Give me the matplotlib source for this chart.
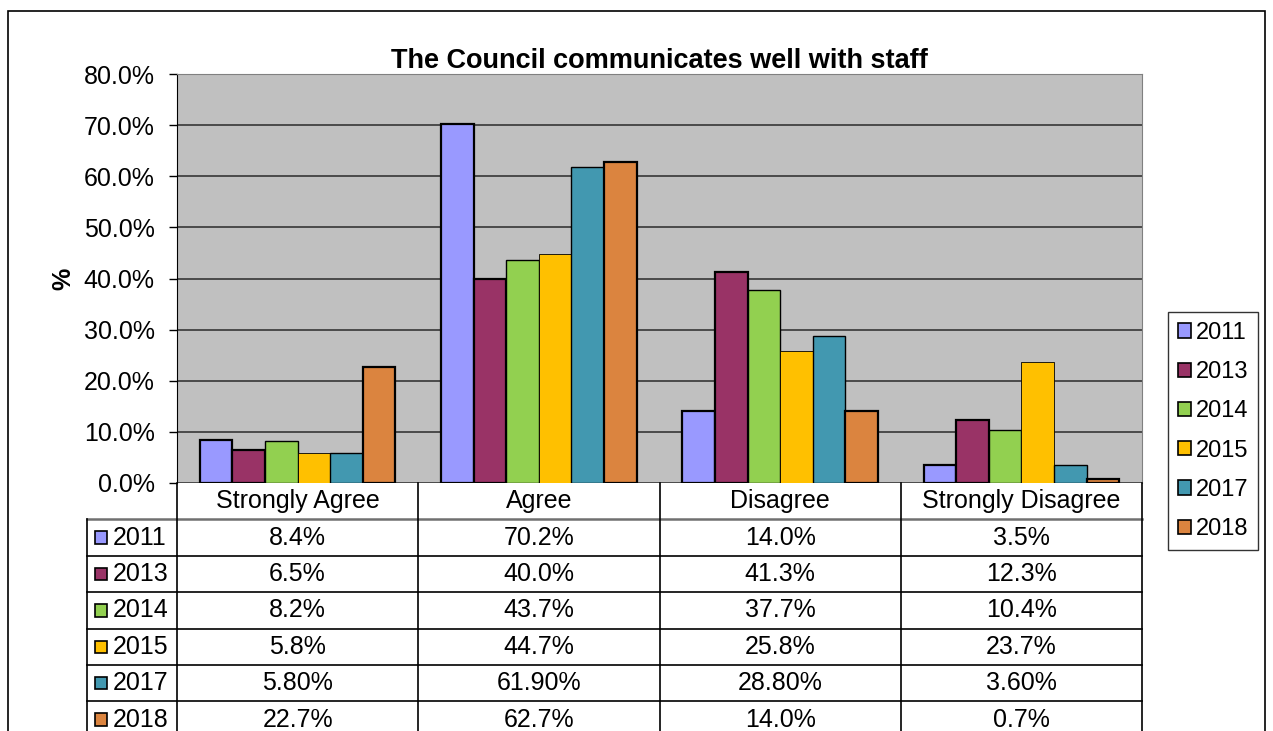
import numpy as np
import matplotlib
matplotlib.use('Agg')
import matplotlib.pyplot as plt
from matplotlib.patches import Rectangle

plt.rcParams['font.family'] = ['Liberation Sans', 'DejaVu Sans']

categories = ['Strongly Agree', 'Agree', 'Disagree', 'Strongly Disagree']
years = ['2011', '2013', '2014', '2015', '2017', '2018']
v2011 = [8.4, 70.2, 14.0, 3.5]
v2013 = [6.5, 40.0, 41.3, 12.3]
v2014 = [8.2, 43.7, 37.7, 10.4]
v2015 = [5.8, 44.7, 25.8, 23.7]
v2017 = [5.80, 61.90, 28.80, 3.60]
v2018 = [22.7, 62.7, 14.0, 0.7]
series = [v2011, v2013, v2014, v2015, v2017, v2018]
decimals = [1, 1, 1, 1, 2, 1]
colors = ['#9999FF', '#993366', '#92D050', '#FFC000', '#4298B0', '#DB843F']
edge_w = [1.6, 1.6, 1.0, 0.6, 1.0, 1.6]
yticks = [0, 10, 20, 30, 40, 50, 60, 70, 80]

W, H = 1273, 731
FS = 18
fig = plt.figure(figsize=(W / 100, H / 100), dpi=100)


def px_box(x0, y0, x1, y1):
    # pixel box (top-left origin) -> figure fraction rect
    return [x0 / W, 1 - y1 / H, (x1 - x0) / W, (y1 - y0) / H]


# outer chart border
fig.patches.append(Rectangle((8 / W, -0.1), (1265 - 8) / W, 1.1 - 11 / H,
                             transform=fig.transFigure, fill=False,
                             edgecolor='black', linewidth=1.2))

ax = fig.add_axes(px_box(177, 74, 1142, 483))
ax.set_facecolor('#C0C0C0')
n = len(series)
bw = 0.81 / n
x = np.arange(len(categories))
for i, vals in enumerate(series):
    ax.bar(x - 0.405 + bw * (i + 0.5), vals, width=bw, color=colors[i],
           edgecolor='black', linewidth=edge_w[i], zorder=3)
ax.set_xlim(-0.5, len(categories) - 0.5)
ax.set_ylim(0, 80)
ax.set_yticks(yticks)
ax.set_yticklabels([f'{t:.1f}%' for t in yticks], fontsize=FS)
ax.yaxis.grid(True, color='#2b2b2b', linewidth=1.1, zorder=1)
ax.set_xticks([])
ax.tick_params(axis='y', length=6, width=1, pad=10)
for side in ['top', 'right']:
    ax.spines[side].set_color('#808080')
ax.spines['left'].set_color('black')
ax.spines['bottom'].set_visible(False)
ax.set_ylabel('%', fontsize=FS, fontweight='bold', labelpad=6)
ax.set_title('The Council communicates well with staff', fontsize=19.5,
             fontweight='bold', pad=4)

# data table under the plot
row_h = 36.4
lab_w = 90 / 241.25
tab = fig.add_axes(px_box(87, 483, 1142, 483 + 7 * row_h))
tab.set_xlim(-0.5 - lab_w, len(categories) - 0.5)
tab.set_ylim(7, 0)
tab.axis('off')
for r in range(1, 8):
    tab.plot([-0.5 - lab_w, len(categories) - 0.5], [r, r],
             color='black' if r > 1 else '#707070',
             lw=1.2 if r > 1 else 1.8, clip_on=False)
tab.plot([-0.5 - lab_w] * 2, [1, 7], color='black', lw=1.2, clip_on=False)
for c in range(len(categories) + 1):
    tab.plot([c - 0.5] * 2, [0, 7], color='black', lw=1.2, clip_on=False)
for c, name in enumerate(categories):
    tab.text(c, 0.5, name, ha='center', va='center', fontsize=FS)
for r, (yr, vals) in enumerate(zip(years, series)):
    yc = r + 1.5
    tab.add_patch(Rectangle((-0.5 - lab_w + 0.033, yc - 0.17), 0.05, 0.34,
                            facecolor=colors[r], edgecolor='black', lw=1.2))
    tab.text(-0.5 - lab_w + 0.107, yc, yr, ha='left', va='center', fontsize=FS)
    for c, v in enumerate(vals):
        tab.text(c, yc, f'{v:.{decimals[r]}f}%', ha='center', va='center', fontsize=FS)

handles = [Rectangle((0, 0), 1, 1, facecolor=col, edgecolor='black', lw=1.2) for col in colors]
leg = fig.legend(handles, years, loc='upper left', bbox_to_anchor=(1168 / W, 1 - 312 / H),
                 fontsize=17, frameon=True, fancybox=False, edgecolor='black',
                 handlelength=0.55, handleheight=0.55, handletextpad=0.2,
                 labelspacing=0.73, borderpad=0.42, borderaxespad=0)
leg.get_frame().set_linewidth(1.0)

fig.savefig('out.png', dpi=100)
